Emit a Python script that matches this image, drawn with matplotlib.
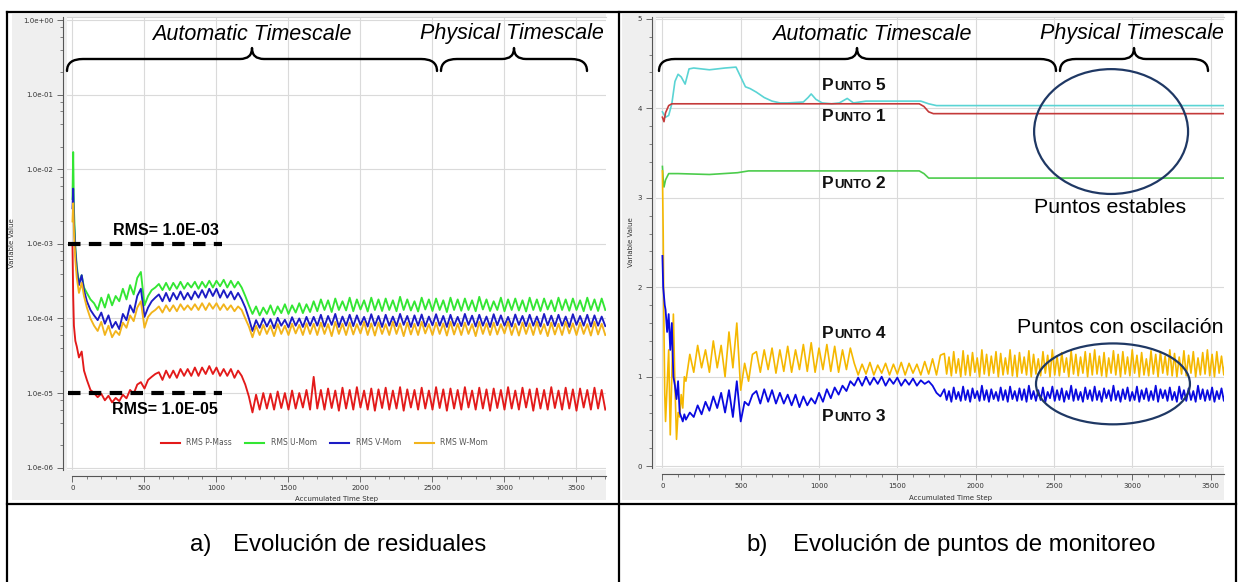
import numpy as np
import matplotlib
matplotlib.use("Agg")
import matplotlib.pyplot as plt
from matplotlib.path import Path
from matplotlib.patches import PathPatch, Ellipse, Rectangle
from matplotlib.offsetbox import TextArea, HPacker, AnnotationBbox
from matplotlib.ticker import FixedLocator, MultipleLocator, NullFormatter

W, H = 1238, 582

# ---------------- a) residuals (log scale) ----------------
res_steps = [0, 5, 10, 20, 30, 45, 64, 80, 100, 125] + list(range(150, 3701, 25))

# values in units of 1e-5
p_mass = np.array(
    [100, 20, 8, 5, 4.2, 3.0, 3.6, 2.0, 1.5, 1.1]
    + [1.0, 0.88, 0.98, 0.8, 0.92, 0.75, 0.86, 0.78, 0.95, 0.85, 1.1, 0.98, 1.3, 1.4]
    + [1.15, 1.5, 1.65, 1.8]
    + [1.9, 1.5, 2.0, 1.6, 2.0, 1.6, 2.1, 1.7, 2.1, 1.7, 2.2, 1.7, 2.2, 1.8, 2.3, 1.8,
       2.2, 1.7, 2.1, 1.7, 2.1, 1.6, 2.0]
    + [1.7, 1.3, 0.9, 0.55]
    + [0.95, 0.6, 1.0, 0.62, 0.98, 0.6, 1.05, 0.63, 1.0, 0.6, 1.08, 0.62, 1.0, 0.64, 1.1, 0.6]
    + [1.65, 0.62, 1.1, 0.6, 1.15, 0.63, 1.08, 0.58, 1.18, 0.62, 1.1, 0.6, 1.2, 0.64, 1.08, 0.6,
       1.15, 0.58, 1.12, 0.63, 1.18, 0.6, 1.08, 0.62, 1.2, 0.58, 1.12, 0.64, 1.1, 0.6, 1.18, 0.62,
       1.08, 0.6, 1.2, 0.63, 1.12, 0.58, 1.15, 0.62, 1.1, 0.6, 1.2, 0.64, 1.08, 0.6, 1.18, 0.62,
       1.12, 0.58, 1.15, 0.63, 1.1, 0.6, 1.2, 0.62, 1.08, 0.6, 1.18, 0.64, 1.12, 0.58, 1.15, 0.62,
       1.1, 0.6, 1.2, 0.63, 1.08, 0.6, 1.18, 0.62, 1.12, 0.58, 1.15, 0.64, 1.1, 0.6, 1.18, 0.62,
       1.1, 0.6]
) * 1e-5

# values in units of 1e-4
u_mom = np.array(
    [40, 170, 30, 9, 5, 3.0, 3.8, 2.6, 2.2, 1.8]
    + [1.6, 1.3, 1.9, 1.4, 2.1, 1.5, 2.0, 1.7, 2.5, 1.8, 2.8, 2.1, 3.5, 4.2]
    + [1.5, 2.0, 2.4, 2.6]
    + [2.9, 2.4, 3.0, 2.4, 3.0, 2.5, 3.1, 2.5, 3.0, 2.6, 3.1, 2.5, 3.1, 2.6, 3.2, 2.6,
       3.2, 2.7, 3.3, 2.6, 3.2, 2.6, 3.1]
    + [2.6, 2.0, 1.5, 1.15]
    + [1.45, 1.1, 1.4, 1.15, 1.5, 1.12, 1.45, 1.18, 1.55, 1.15, 1.5, 1.2, 1.6, 1.18, 1.55, 1.22]
    + [1.7, 1.25, 1.8, 1.3, 1.75, 1.22, 1.85, 1.3, 1.7, 1.28, 1.9, 1.25, 1.8, 1.32, 1.75, 1.24,
       1.9, 1.3, 1.8, 1.26, 1.85, 1.3, 1.75, 1.25, 1.95, 1.3, 1.8, 1.28, 1.7, 1.24, 1.9, 1.32,
       1.8, 1.26, 1.85, 1.3, 1.75, 1.22, 1.9, 1.3, 1.8, 1.27, 1.85, 1.3, 1.75, 1.25, 1.95, 1.32,
       1.8, 1.26, 1.7, 1.3, 1.9, 1.25, 1.8, 1.3, 1.85, 1.28, 1.75, 1.24, 1.9, 1.3, 1.8, 1.26,
       1.85, 1.32, 1.75, 1.25, 1.9, 1.3, 1.8, 1.27, 1.85, 1.3, 1.75, 1.25, 1.9, 1.3, 1.8, 1.26,
       1.85, 1.3]
) * 1e-4

v_mom = np.array(
    [30, 55, 20, 8, 4.5, 2.8, 3.8, 2.4, 1.7, 1.3]
    + [1.1, 0.95, 1.2, 0.85, 1.1, 0.75, 0.9, 0.72, 1.15, 0.95, 1.5, 1.2, 2.0, 2.5]
    + [1.05, 1.4, 1.7, 1.9]
    + [2.1, 1.7, 2.2, 1.7, 2.2, 1.8, 2.3, 1.8, 2.2, 1.8, 2.3, 1.9, 2.4, 1.9, 2.5, 2.0,
       2.5, 1.9, 2.4, 1.9, 2.3, 1.8, 2.2]
    + [1.8, 1.4, 1.0, 0.68]
    + [0.95, 0.75, 1.0, 0.78, 0.98, 0.74, 1.02, 0.8, 0.96, 0.76, 1.04, 0.8, 1.0, 0.77, 1.05, 0.8]
    + [1.05, 0.8, 1.12, 0.78, 1.08, 0.82, 1.15, 0.77, 1.06, 0.8, 1.12, 0.79, 1.1, 0.82, 1.05, 0.78,
       1.14, 0.8, 1.08, 0.77, 1.12, 0.8, 1.06, 0.79, 1.15, 0.82, 1.08, 0.77, 1.1, 0.8, 1.13, 0.78,
       1.06, 0.81, 1.14, 0.8, 1.08, 0.77, 1.12, 0.8, 1.05, 0.79, 1.15, 0.82, 1.09, 0.78, 1.12, 0.8,
       1.06, 0.77, 1.14, 0.81, 1.1, 0.8, 1.05, 0.78, 1.13, 0.82, 1.08, 0.79, 1.12, 0.8, 1.06, 0.78,
       1.15, 0.81, 1.09, 0.79, 1.12, 0.8, 1.06, 0.77, 1.14, 0.82, 1.08, 0.8, 1.12, 0.78, 1.1, 0.8,
       1.06, 0.79]
) * 1e-4

w_mom = np.array(
    [20, 35, 15, 6, 3.5, 2.2, 3.0, 2.0, 1.4, 1.0]
    + [0.8, 0.68, 0.9, 0.6, 0.8, 0.56, 0.68, 0.6, 0.88, 0.75, 1.1, 0.92, 1.4, 1.7]
    + [0.75, 1.05, 1.2, 1.3]
    + [1.45, 1.2, 1.5, 1.25, 1.5, 1.25, 1.55, 1.3, 1.5, 1.3, 1.55, 1.3, 1.6, 1.3, 1.6, 1.35,
       1.6, 1.3, 1.55, 1.3, 1.5, 1.25, 1.45]
    + [1.3, 1.0, 0.78, 0.56]
    + [0.8, 0.6, 0.82, 0.62, 0.8, 0.58, 0.84, 0.62, 0.8, 0.6, 0.85, 0.63, 0.82, 0.6, 0.86, 0.62]
    + [0.85, 0.6, 0.88, 0.62, 0.84, 0.58, 0.9, 0.62, 0.85, 0.6, 0.88, 0.61, 0.84, 0.63, 0.9, 0.6,
       0.86, 0.59, 0.88, 0.62, 0.84, 0.6, 0.9, 0.62, 0.86, 0.58, 0.88, 0.61, 0.85, 0.6, 0.9, 0.63,
       0.84, 0.6, 0.88, 0.62, 0.86, 0.59, 0.9, 0.61, 0.85, 0.6, 0.88, 0.62, 0.84, 0.58, 0.9, 0.62,
       0.86, 0.6, 0.88, 0.61, 0.84, 0.63, 0.9, 0.6, 0.85, 0.59, 0.88, 0.62, 0.86, 0.6, 0.9, 0.62,
       0.84, 0.58, 0.88, 0.61, 0.85, 0.6, 0.9, 0.63, 0.86, 0.6, 0.88, 0.62, 0.84, 0.59, 0.9, 0.61,
       0.85, 0.6]
) * 1e-4

res_names = ["RMS P-Mass", "RMS U-Mom", "RMS V-Mom", "RMS W-Mom"]
res_colors = ["#e31a1a", "#33e633", "#1c1cc4", "#f2b41c"]
rms_targets = [1.0e-3, 1.0e-5]
rms_labels = ["RMS= 1.0E-03", "RMS= 1.0E-05"]

# ---------------- b) monitor points ----------------
mon_steps = [0, 5, 10, 15, 20, 30, 40, 50, 60, 70, 80, 90, 100, 110, 120, 130, 140] \
    + list(range(150, 1800, 25)) + list(range(1800, 3601, 15))

p1_steps = [0, 10, 20, 40, 60, 100, 500, 1000, 1640, 1670, 1700, 1730, 3600]
p1_vals = [3.9, 3.85, 3.95, 4.03, 4.05, 4.05, 4.05, 4.05, 4.05, 4.02, 3.96, 3.94, 3.94]

p2_steps = [0, 5, 10, 20, 40, 100, 300, 480, 550, 1000, 1640, 1670, 1700, 3600]
p2_vals = [3.35, 3.2, 3.12, 3.2, 3.27, 3.27, 3.26, 3.28, 3.3, 3.3, 3.3, 3.27, 3.22, 3.22]

p5_steps = [0, 20, 40, 60, 80, 100, 120, 145, 170, 200, 300, 400, 470, 500, 530, 560, 600,
            650, 700, 750, 800, 900, 930, 950, 980, 1020, 1080, 1130, 1180, 1220, 1300, 1650,
            1700, 1750, 3600]
p5_vals = [3.96, 3.9, 3.92, 4.05, 4.3, 4.38, 4.35, 4.27, 4.44, 4.45, 4.43, 4.45, 4.46, 4.35,
           4.24, 4.22, 4.18, 4.12, 4.08, 4.06, 4.06, 4.07, 4.12, 4.16, 4.1, 4.06, 4.05, 4.06,
           4.11, 4.06, 4.08, 4.08, 4.05, 4.03, 4.03]

p3_vals = (
    [2.35, 2.0, 1.9, 1.8, 1.75, 1.5, 1.7, 1.3, 1.6, 1.0, 0.9, 0.75, 0.95, 0.6, 0.55, 0.5, 0.58]
    + [0.52, 0.6, 0.55, 0.68, 0.58, 0.72, 0.62, 0.78, 0.65, 0.82, 0.6, 0.85, 0.55, 0.95]
    + [0.5, 0.72, 0.68, 0.8]
    + [0.84, 0.7, 0.86, 0.72, 0.85, 0.7, 0.82, 0.7, 0.8, 0.68, 0.8, 0.66, 0.78, 0.68, 0.76,
       0.7, 0.82]
    + [0.72, 0.86, 0.76, 0.88, 0.8, 0.9, 0.84, 0.95]
    + [0.9, 0.99, 0.9, 1.0, 0.91, 0.99, 0.92, 1.0, 0.9, 0.98, 0.92, 0.99, 0.9, 0.97, 0.91,
       0.98, 0.9, 0.96, 0.92, 0.95]
    + [0.9, 0.82, 0.78]
    + [0.86, 0.74, 0.84, 0.72, 0.88, 0.75, 0.83, 0.73, 0.89, 0.74, 0.85, 0.72, 0.87, 0.76,
       0.84, 0.73, 0.9, 0.74, 0.85, 0.72, 0.86, 0.75, 0.83, 0.73, 0.88, 0.74, 0.85, 0.72,
       0.89, 0.75, 0.84, 0.73, 0.87, 0.74, 0.86, 0.72, 0.9, 0.75, 0.84, 0.73, 0.85, 0.74,
       0.88, 0.72, 0.83, 0.76, 0.89, 0.73, 0.85, 0.74, 0.87, 0.72, 0.84, 0.75, 0.9, 0.73,
       0.86, 0.74, 0.83, 0.72, 0.88, 0.75, 0.85, 0.73, 0.89, 0.74, 0.84, 0.72, 0.87, 0.76,
       0.85, 0.73, 0.9, 0.74, 0.84, 0.72, 0.86, 0.75, 0.88, 0.73, 0.83, 0.74, 0.89, 0.72,
       0.85, 0.75, 0.87, 0.73, 0.84, 0.74, 0.9, 0.72, 0.86, 0.76, 0.85, 0.73, 0.88, 0.74,
       0.83, 0.72, 0.89, 0.75, 0.85, 0.73, 0.87, 0.74, 0.84, 0.72, 0.9, 0.75, 0.86, 0.73,
       0.85, 0.74, 0.88, 0.72, 0.84, 0.75, 0.87, 0.73, 0.86]
)

p4_vals = (
    [3.3, 2.6, 1.5, 0.8, 0.5, 0.9, 1.3, 0.35, 1.0, 1.7, 0.9, 0.3, 0.6, 0.55, 0.8, 0.65, 1.0]
    + [0.95, 1.25, 1.05, 1.35, 1.1, 1.3, 1.05, 1.4, 1.1, 1.35, 1.0, 1.5, 1.1, 1.6]
    + [0.85, 1.15, 0.95, 1.25]
    + [1.28, 1.05, 1.3, 1.08, 1.32, 1.04, 1.3, 1.06, 1.34, 1.05, 1.3, 1.08, 1.36, 1.06, 1.38,
       1.05, 1.32, 1.08, 1.36, 1.06, 1.34, 1.05, 1.3, 1.08, 1.32]
    + [1.15, 1.02, 1.14, 1.03, 1.16, 1.02, 1.13, 1.04, 1.15, 1.02, 1.14, 1.03, 1.16, 1.02,
       1.15, 1.04, 1.14, 1.02, 1.17, 1.03]
    + [1.2, 1.02, 1.24]
    + [1.26, 1.03, 1.22, 1.01, 1.28, 1.04, 1.2, 1.0, 1.29, 1.02, 1.24, 1.01, 1.27, 1.05,
       1.21, 1.0, 1.3, 1.03, 1.25, 1.01, 1.23, 1.04, 1.28, 1.0, 1.26, 1.02, 1.21, 1.03,
       1.3, 1.01, 1.24, 1.0, 1.27, 1.04, 1.22, 1.02, 1.29, 1.0, 1.25, 1.03, 1.2, 1.01,
       1.28, 1.04, 1.24, 1.0, 1.3, 1.02, 1.23, 1.01, 1.27, 1.05, 1.21, 1.0, 1.29, 1.03,
       1.25, 1.01, 1.22, 1.04, 1.28, 1.0, 1.26, 1.02, 1.3, 1.03, 1.23, 1.01, 1.27, 1.0,
       1.21, 1.04, 1.29, 1.02, 1.25, 1.0, 1.28, 1.03, 1.22, 1.01, 1.3, 1.04, 1.24, 1.0,
       1.27, 1.02, 1.2, 1.01, 1.29, 1.03, 1.25, 1.0, 1.28, 1.04, 1.23, 1.02, 1.3, 1.01,
       1.26, 1.0, 1.22, 1.03, 1.29, 1.01, 1.24, 1.04, 1.28, 1.0, 1.21, 1.02, 1.27, 1.03,
       1.3, 1.01, 1.25, 1.0, 1.28, 1.04, 1.23, 1.02, 1.27]
)

punto_names = ["5", "1", "2", "4", "3"]
punto_y = [4.26, 3.91, 3.16, 1.48, 0.56]
punto_step = 1020

assert len(p_mass) == len(u_mom) == len(v_mom) == len(w_mom) == len(res_steps)
assert len(p3_vals) == len(p4_vals) == len(mon_steps)

# ---------------- figure ----------------
fig = plt.figure(figsize=(W / 100, H / 100), dpi=100)
fig.patch.set_facecolor("white")

bg = fig.add_axes([0, 0, 1, 1], zorder=0)
bg.set_xlim(0, W)
bg.set_ylim(H, 0)
bg.axis("off")
for x0, x1 in [(12, 606), (622, 1224)]:
    bg.add_patch(Rectangle((x0, 14), x1 - x0, 486, color="#efefef", lw=0))


def px_axes(x0, y0, x1, y1):
    return fig.add_axes([x0 / W, 1 - y1 / H, (x1 - x0) / W, (y1 - y0) / H], zorder=1)


def style_axes(ax):
    ax.set_facecolor("white")
    ax.spines["right"].set_visible(False)
    ax.spines["top"].set_color("#d4d4d4")
    ax.spines["left"].set_position(("outward", 3))
    ax.spines["bottom"].set_position(("outward", 4))
    for s in ["left", "bottom"]:
        ax.spines[s].set_color("#555555")
        ax.spines[s].set_linewidth(0.8)
    ax.tick_params(which="major", labelsize=5, labelcolor="#333333", colors="#555555",
                   length=4, width=0.6, pad=3)
    ax.tick_params(which="minor", length=2, width=0.5, colors="#555555")
    ax.xaxis.set_major_locator(MultipleLocator(500))
    ax.xaxis.set_minor_locator(MultipleLocator(100))
    ax.grid(True, which="major", color="#dadada", lw=0.8)
    ax.set_axisbelow(True)
    ax.set_xlabel("Accumulated Time Step", fontsize=5, color="#333333")
    ax.set_ylabel("Variable Value", fontsize=5, color="#333333")


# ----- left panel -----
ax1 = px_axes(67, 17, 606, 470)
style_axes(ax1)
ax1.set_yscale("log")
ax1.set_xlim(-38, 3705)
ax1.set_ylim(9.3e-7, 1.1)
decades = [1e0, 1e-1, 1e-2, 1e-3, 1e-4, 1e-5, 1e-6]
ax1.yaxis.set_major_locator(FixedLocator(decades))
ax1.set_yticklabels([f"{d:.1e}" for d in decades])
ax1.yaxis.set_minor_locator(FixedLocator(
    [m * d for d in decades[1:] for m in (2, 4, 6, 8)]))
ax1.yaxis.set_minor_formatter(NullFormatter())
ax1.spines["bottom"].set_bounds(0, 3705)
ax1.xaxis.set_label_coords(0.5, -0.058)
ax1.yaxis.set_label_coords(-0.097, 0.5)

for vals, name, col in zip([p_mass, u_mom, v_mom, w_mom], res_names, res_colors):
    ax1.plot(res_steps, vals, color=col, lw=1.35, label=name)

for lvl in rms_targets:
    ax1.plot([-31, 1038], [lvl, lvl], color="black", lw=3, dashes=(3, 2),
             solid_capstyle="butt", dash_capstyle="butt", zorder=4)
ax1.text(650, 1.5e-3, rms_labels[0], fontsize=11.5, fontweight="bold",
         family="Liberation Sans", ha="center", va="center", zorder=5)
ax1.text(645, 6.1e-6, rms_labels[1], fontsize=11.5, fontweight="bold",
         family="Liberation Sans", ha="center", va="center", zorder=5)

leg = ax1.legend(loc="center", bbox_to_anchor=(0.477, 0.06), ncol=4, frameon=False,
                 fontsize=5.5, handlelength=2.5, handletextpad=0.8, columnspacing=1.8,
                 labelcolor="#555555")
for ln in leg.get_lines():
    ln.set_linewidth(1.5)

# ----- right panel -----
ax2 = px_axes(656, 17, 1224, 468)
style_axes(ax2)
ax2.set_xlim(-41, 3586)
ax2.set_ylim(-0.02, 5.02)
ax2.yaxis.set_major_locator(MultipleLocator(1))
ax2.yaxis.set_minor_locator(MultipleLocator(0.2))
ax2.spines["bottom"].set_bounds(0, 3586)
ax2.xaxis.set_label_coords(0.518, -0.06)
ax2.yaxis.set_label_coords(-0.039, 0.5)

ax2.plot(p5_steps, p5_vals, color="#5ad4d4", lw=1.2)
ax2.plot(p1_steps, p1_vals, color="#c43a3a", lw=1.2)
ax2.plot(p2_steps, p2_vals, color="#4ccc4c", lw=1.2)
ax2.plot(mon_steps, p4_vals, color="#f5b800", lw=1.2)
ax2.plot(mon_steps, p3_vals, color="#0a0ae0", lw=1.3)


def punto_label(ax, num, x, y):
    fp = dict(family="Liberation Sans", weight="bold", color="#111111")
    parts = [TextArea("P", textprops=dict(size=12.5, **fp)),
             TextArea("UNTO", textprops=dict(size=9.5, **fp)),
             TextArea(" " + num, textprops=dict(size=12.5, **fp))]
    box = HPacker(children=parts, align="baseline", pad=0, sep=0)
    ab = AnnotationBbox(box, (x, y), xycoords="data", box_alignment=(0, 0.5),
                        frameon=False, pad=0, annotation_clip=False, zorder=5)
    ax.add_artist(ab)


for name, yv in zip(punto_names, punto_y):
    punto_label(ax2, name, punto_step, yv)

ring = "#1f3864"
ax2.add_patch(Ellipse((2865, 3.74), 983, 1.395, fill=False, ec=ring, lw=1.6,
                      clip_on=False, zorder=5))
ax2.add_patch(Ellipse((2877, 0.92), 983, 0.904, fill=False, ec=ring, lw=1.6,
                      clip_on=False, zorder=5))
ax2.text(2860, 2.89, "Puntos estables", fontsize=15.4, family="Liberation Sans",
         ha="center", va="center", zorder=5)
ax2.text(2922, 1.55, "Puntos con oscilación", fontsize=15.4, family="Liberation Sans",
         ha="center", va="center", zorder=5)

# ---------------- overlay: braces, table, captions ----------------
ov = fig.add_axes([0, 0, 1, 1], zorder=5)
ov.set_xlim(0, W)
ov.set_ylim(H, 0)
ov.axis("off")
ov.patch.set_alpha(0)


def brace(x0, x1, xt, y_end=71, y_flat=59, y_tip=48, r=16, rt=12):
    verts = [(x0, y_end), (x0, y_flat), (x0 + r, y_flat),
             (xt - rt, y_flat), (xt, y_flat), (xt, y_tip),
             (xt, y_flat), (xt + rt, y_flat),
             (x1 - r, y_flat), (x1, y_flat), (x1, y_end)]
    codes = [Path.MOVETO, Path.CURVE3, Path.CURVE3,
             Path.LINETO, Path.CURVE3, Path.CURVE3,
             Path.CURVE3, Path.CURVE3,
             Path.LINETO, Path.CURVE3, Path.CURVE3]
    ov.add_patch(PathPatch(Path(verts, codes), fill=False, lw=1.7, ec="black",
                           capstyle="round", joinstyle="round"))


brace(67, 437, 252)
brace(441, 587, 514)
brace(659, 1056, 857)
brace(1060, 1208, 1134)

ts = dict(fontsize=15.5, style="italic", family="Liberation Sans", ha="center", va="center")
ov.text(252, 34, "Automatic Timescale", **ts)
ov.text(512, 34, "Physical Timescale", **ts)
ov.text(872, 34, "Automatic Timescale", **ts)
ov.text(1132, 34, "Physical Timescale", **ts)

# table frame
tl = dict(color="black", lw=1.6, solid_capstyle="projecting")
ov.plot([7, 1236], [12, 12], **tl)
ov.plot([7, 1236], [504, 504], **tl)
ov.plot([7, 7], [12, 582], **tl)
ov.plot([618.5, 618.5], [12, 582], **tl)
ov.plot([1236, 1236], [12, 582], **tl)

cap = dict(fontsize=17.3, family="Liberation Sans", ha="left", va="center")
ov.text(190, 545, "a)", **cap)
ov.text(233, 545, "Evolución de residuales", **cap)
ov.text(746, 545, "b)", **cap)
ov.text(793, 545, "Evolución de puntos de monitoreo", **cap)

fig.savefig("out.png", dpi=100)
